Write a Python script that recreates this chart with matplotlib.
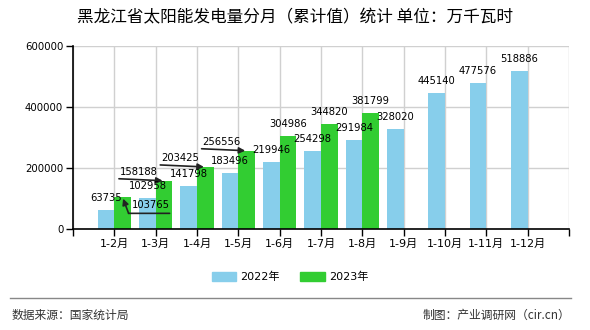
import matplotlib
matplotlib.use("Agg")
import matplotlib.pyplot as plt
from matplotlib.transforms import offset_copy

plt.rcParams['font.family'] = ['DejaVu Sans', 'Noto Sans CJK SC']

months = ['1-2月', '1-3月', '1-4月', '1-5月', '1-6月', '1-7月',
          '1-8月', '1-9月', '1-10月', '1-11月', '1-12月']
v2022 = [63735, 102958, 141798, 183496, 219946, 254298,
         291984, 328020, 445140, 477576, 518886]
v2023 = [103765, 158188, 203425, 256556, 304986, 344820, 381799]
yticks = [0, 200000, 400000, 600000]

title = '黑龙江省太阳能发电量分月（累计值）统计 单位：万千瓦时'
c22 = '#87CEEB'
c23 = '#32CD32'

fig = plt.figure(figsize=(5.9, 3.3), dpi=100)
ax = fig.add_axes([73 / 590, 1 - 229 / 330, 496 / 590, 183 / 330])

x22 = [i - 0.2 for i in range(len(v2022))]
x23 = [i + 0.2 for i in range(len(v2023))]
ax.bar(x22, v2022, width=0.4, color=c22, zorder=2)
ax.bar(x23, v2023, width=0.4, color=c23, zorder=2)

ax.set_xlim(-1, 11)
ax.set_ylim(0, 600000)
ax.set_xticks(range(-1, 12))
ax.set_xticklabels([''] + months + [''], fontsize=8)
ax.set_yticks(yticks)
ax.set_yticklabels([str(v) for v in yticks], fontsize=7.3)
ax.tick_params(length=5, width=1, color='black', pad=2)
ax.grid(True, color='#d0d0d0', lw=1, zorder=0)
ax.set_axisbelow(True)
for s in ['top', 'right']:
    ax.spines[s].set_visible(False)
for s in ['left', 'bottom']:
    ax.spines[s].set_linewidth(1.2)

lab = dict(fontsize=7.2, ha='center', va='center', zorder=5)

# 2022 labels
for x, v in zip(x22, v2022):
    ax.annotate(str(v), xy=(x, v), xytext=(0, 12), textcoords='offset pixels', **lab)

# 2023 labels, first four are moved aside with a pointer
arr = dict(arrowstyle='-|>', color='#222222', lw=1.2, mutation_scale=9,
           shrinkA=0, shrinkB=1)
for k, (x, v) in enumerate(zip(x23, v2023)):
    if k == 0:
        ax.annotate(str(v), xy=(x, v), xytext=(28, -8), textcoords='offset pixels', **lab)
        start = offset_copy(ax.transData, fig=fig, x=6, y=-16, units='dots')
        ax.annotate('', xy=(x, v), xycoords=start, xytext=(41, 0),
                    textcoords='offset pixels',
                    arrowprops=dict(arrowstyle='-', color='#222222', lw=1.2,
                                    shrinkA=0, shrinkB=0))
        ax.annotate('', xy=(x, v), xytext=(6, -16), textcoords='offset pixels',
                    arrowprops=arr)
    elif k < 4:
        ax.annotate(str(v), xy=(x, v), xytext=(-25, 9), textcoords='offset pixels', **lab)
        ax.annotate('', xy=(x, v), xytext=(-45, 2), textcoords='offset pixels',
                    arrowprops=arr)
    else:
        ax.annotate(str(v), xy=(x, v), xytext=(0, 12), textcoords='offset pixels', **lab)

fig.text(0.5, 1 - 18 / 330, title, ha='center', va='center', fontsize=12,
         family=['Noto Sans CJK SC', 'DejaVu Sans'])

# legend
h1 = plt.Rectangle((0, 0), 1, 1, color=c22)
h2 = plt.Rectangle((0, 0), 1, 1, color=c23)
fig.legend([h1, h2], ['2022年', '2023年'], loc='center', ncol=2,
           bbox_to_anchor=(290 / 590, 1 - 277 / 330), frameon=False,
           fontsize=8, handlelength=2.2, handleheight=0.9, columnspacing=1.8,
           handletextpad=0.4)

# footer
fig.add_artist(plt.Line2D([10 / 590, 571 / 590], [1 - 298 / 330, 1 - 298 / 330],
                          color='#888888', lw=1))
fig.text(12 / 590, 1 - 315 / 330, '数据来源：国家统计局', ha='left', va='center',
         fontsize=8.5, color='#333333', family=['Noto Sans CJK SC', 'DejaVu Sans'])
fig.text(570 / 590, 1 - 315 / 330, '制图：产业调研网（cir.cn）', ha='right', va='center',
         fontsize=8.5, color='#333333', family=['Noto Sans CJK SC', 'DejaVu Sans'])

fig.savefig('out.png', dpi=100)
